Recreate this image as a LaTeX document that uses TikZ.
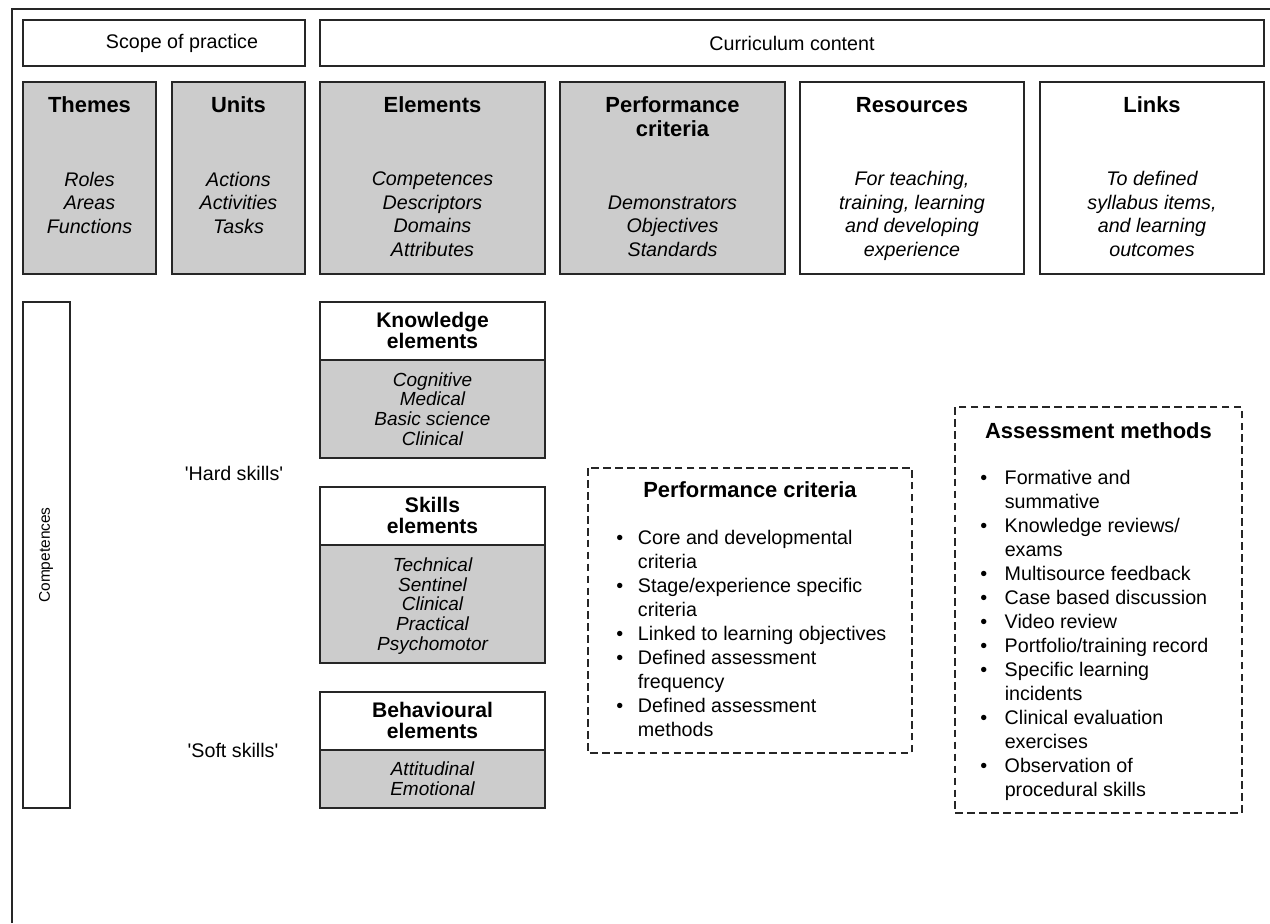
\documentclass[tikz,border=0pt]{standalone}
\usepackage{fontspec}
\setmainfont{Liberation Sans}
\usetikzlibrary{calc}

\colorlet{boxgrey}{black!20}

\begin{document}
\begin{tikzpicture}[
    x=0.025cm, y=-0.025cm,
    line width=1.1pt,
    black!85,
    ]

    % Determines the boundries
    \path[use as bounding box] (0,0) rectangle (1270,923);
    \draw[line width=0.9pt] (12,923) -- (12,9) -- (1270,9);

    \def\normFont{\fontsize{14}{16.7}\selectfont}
    \def\headFont{\fontsize{15.6}{17}\selectfont\bfseries}
    \def\elemFont{\fontsize{13.5}{14.1}\selectfont\itshape}
    \def\elemHead{\fontsize{15}{14.4}\selectfont\bfseries}
    \def\listFont{\fontsize{14}{17.1}\selectfont}

    % multi-line nodes sit on the baseline of their last line
    \tikzset{
        txt/.style   = {inner sep=0pt, align=center, text=black, font=\normFont},
        head/.style  = {txt, anchor=base, font=\headFont},
        body/.style  = {txt, anchor=base, font=\normFont\itshape},
        ehead/.style = {txt, anchor=base, font=\elemHead},
        ebody/.style = {txt, anchor=base, font=\elemFont},
        blist/.style = {inner sep=0pt, anchor=base west, text=black, font=\listFont},
        dashbox/.style = {line width=0.8pt, dash pattern=on 5.5pt off 3pt},
    }

    % Header bars
    \draw (23,20) rectangle (305,66);
    \draw (320,20) rectangle (1264,66);
    \node[txt] (scope)  at (182,43) {Scope of practice};
    \node[txt] (curric) at (792,43) {Curriculum content};

    % The top row of boxes
    \foreach \nm/\xa/\xb/\fc/\hd/\yh/\ya/\bd in {
        themes/23/156/boxgrey/Themes/112/233/{Roles\\Areas\\Functions},
        units/172/305/boxgrey/Units/112/233/{Actions\\Activities\\Tasks},
        elements/320/545/boxgrey/Elements/112/256/{Competences\\Descriptors\\Domains\\Attributes},
        perfcrit/560/785/boxgrey/{Performance\\criteria}/136/256/{Demonstrators\\Objectives\\Standards},
        resources/800/1024/white/Resources/112/256/{For teaching,\\training, learning\\and developing\\experience},
        links/1040/1264/white/Links/112/256/{To defined\\syllabus items,\\and learning\\outcomes}}{
        \filldraw[fill=\fc] (\xa,82) rectangle (\xb,274);
        \node[head] (\nm-head) at ({(\xa+\xb)/2},\yh) {\hd};
        \node[body] (\nm-body) at ({(\xa+\xb)/2},\ya) {\bd};
    }

    % Competences bar and the two skill labels
    \draw (23,302) rectangle (70,808);
    \node[txt, rotate=90, font=\fontsize{11}{13}\selectfont] (compet) at (46,555) {Competences};
    \node[txt] (hard) at (234,473) {\textquotesingle Hard skills\textquotesingle};
    \node[txt] (soft) at (233,750) {\textquotesingle Soft skills\textquotesingle};

    % name, top, divider, bottom, title, items
    \def\elemBox#1#2#3#4#5#6{
        \fill[boxgrey] (320,#3) rectangle (545,#4);
        \draw (320,#2) rectangle (545,#4);
        \draw (320,#3) -- (545,#3);
        \node[ehead] (#1-head) at (432.5,#2+46) {#5};
        \node[ebody] (#1-body) at (432.5,#4-12.5) {#6};
    }

    \elemBox{know}{302}{360}{458}{Knowledge\\elements}{Cognitive\\Medical\\Basic science\\Clinical}
    \elemBox{skill}{487}{545}{663}{Skills\\elements}{Technical\\Sentinel\\Clinical\\Practical\\Psychomotor}
    \elemBox{behav}{692}{750}{808}{Behavioural\\elements}{Attitudinal\\Emotional}

    % Performance criteria list
    \draw[dashbox] (588,468) rectangle (912,753);
    \node[head] (perf-title) at (750,497) {Performance criteria};
    \node[blist] (perf-list) at (615.5,544) {%
        \begin{tabular}[t]{@{}l@{\hspace{10.5pt}}l@{}}
        \textbullet & Core and developmental\\
                    & criteria\\
        \textbullet & Stage/experience specific\\
                    & criteria\\
        \textbullet & Linked to learning objectives\\
        \textbullet & Defined assessment\\
                    & frequency\\
        \textbullet & Defined assessment\\
                    & methods
        \end{tabular}};

    % Assessment methods list
    \draw[dashbox] (955,407) rectangle (1242,813);
    \node[head] (assess-title) at (1098.5,438) {Assessment methods};
    \node[blist] (assess-list) at (979.5,484) {%
        \begin{tabular}[t]{@{}l@{\hspace{12.5pt}}l@{}}
        \textbullet & Formative and\\
                    & summative\\
        \textbullet & Knowledge reviews/\\
                    & exams\\
        \textbullet & Multisource feedback\\
        \textbullet & Case based discussion\\
        \textbullet & Video review\\
        \textbullet & Portfolio/training record\\
        \textbullet & Specific learning\\
                    & incidents\\
        \textbullet & Clinical evaluation\\
                    & exercises\\
        \textbullet & Observation of\\
                    & procedural skills
        \end{tabular}};
\end{tikzpicture}
\end{document}
